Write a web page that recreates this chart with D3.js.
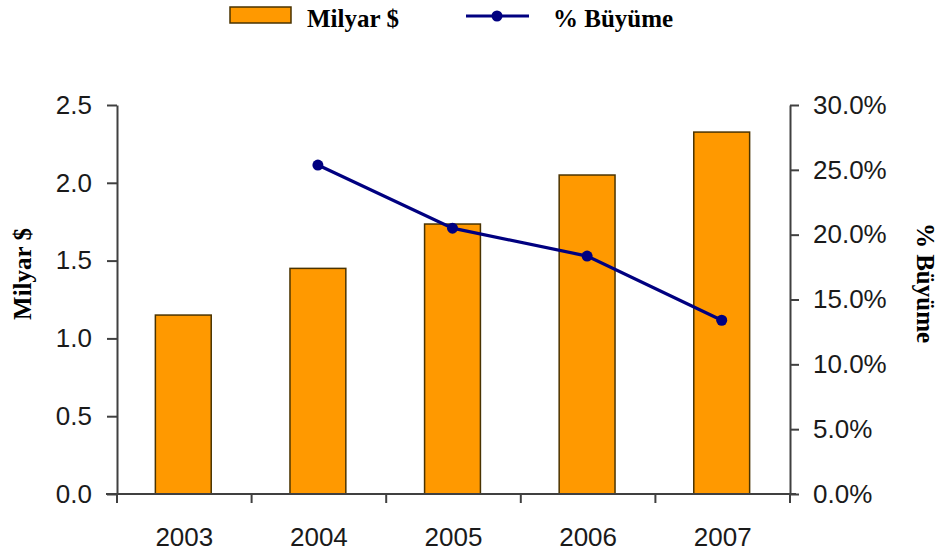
<!DOCTYPE html>
<html><head><meta charset="utf-8">
<script src="https://cdn.jsdelivr.net/npm/d3@7"></script>
<style>
html,body{margin:0;padding:0;background:#fff;}
svg{display:block;}
</style></head>
<body>
<svg id="chart" width="942" height="558"></svg>
<script>
const years = ["2003","2004","2005","2006","2007"];
const milyar = [1.15, 1.45, 1.735, 2.05, 2.326];
const buyume = [null, 0.2537, 0.205, 0.1835, 0.134];
const leftTicks = [0, 0.5, 1.0, 1.5, 2.0, 2.5];
const rightTicks = [0, 0.05, 0.10, 0.15, 0.20, 0.25, 0.30];
const seriesNames = ["Milyar $", "% Büyüme"];

const svg = d3.select("#chart");
const L = 117, R = 790, T = 105, B = 494;
const barColor = "#FF9900", barStroke = "#4a3300", lineColor = "#000080", axisColor = "#404040";
const sans = "'Liberation Sans', Arial, sans-serif";
const serif = "'Liberation Serif', 'Times New Roman', serif";

const x = d3.scaleBand().domain(years).range([L, R]).paddingInner(0.585).paddingOuter(0.2925);
const y = d3.scaleLinear().domain([0, 2.5]).range([B, T]);
const y2 = d3.scaleLinear().domain([0, 0.30]).range([B, T]);

// bars
svg.append("g").selectAll("rect").data(years).join("rect")
  .attr("x", d => x(d) - 1).attr("width", x.bandwidth())
  .attr("y", (d,i) => y(milyar[i])).attr("height", (d,i) => B - y(milyar[i]))
  .attr("fill", barColor).attr("stroke", barStroke).attr("stroke-width", 1.5);

// axes
function styleAxis(g){
  g.select(".domain").attr("stroke", axisColor).attr("stroke-width", 2);
  g.selectAll(".tick line").attr("stroke", axisColor).attr("stroke-width", 2);
  g.selectAll("text").attr("fill", "#1a1a1a").style("font-family", sans).style("font-size", "26px");
}
const gl = svg.append("g").attr("transform", `translate(${L},0)`)
  .call(d3.axisLeft(y).tickValues(leftTicks).tickFormat(d3.format(".1f")).tickSize(10).tickSizeOuter(0).tickPadding(15));
styleAxis(gl);
const gr = svg.append("g").attr("transform", `translate(${R},0)`)
  .call(d3.axisRight(y2).tickValues(rightTicks).tickFormat(d3.format(".1%")).tickSize(9).tickSizeOuter(0).tickPadding(14));
styleAxis(gr);
const gb = svg.append("g").attr("transform", `translate(0,${B})`)
  .call(d3.axisBottom(x).tickSize(0).tickPadding(34));
styleAxis(gb);
gb.select(".domain").attr("d", `M${L-11},0H${R+6}`);
// category boundary ticks
const bounds = d3.range(years.length + 1).map(i => L + i * x.step());
gb.selectAll(".btick").data(bounds).join("line").attr("class","btick")
  .attr("x1", d => d).attr("x2", d => d).attr("y1", 0).attr("y2", 9)
  .attr("stroke", axisColor).attr("stroke-width", 2);

// line
const pts = years.map((d,i) => ({yr:d, v:buyume[i]})).filter(p => p.v != null);
const cx = p => x(p.yr) + x.bandwidth()/2 - 1;
const line = d3.line().x(cx).y(p => y2(p.v));
svg.append("path").datum(pts).attr("d", line).attr("fill","none")
  .attr("stroke", lineColor).attr("stroke-width", 3.2);
svg.append("g").selectAll("circle").data(pts).join("circle")
  .attr("cx", cx).attr("cy", p => y2(p.v)).attr("r", 5.5)
  .attr("fill", lineColor);

// axis titles
svg.append("text").attr("transform", "translate(31,274) rotate(-90)")
  .attr("text-anchor","middle").style("font-family", serif).style("font-size","25px").style("font-weight","bold")
  .text(seriesNames[0]);
svg.append("text").attr("transform", "translate(917,283) rotate(90)")
  .attr("text-anchor","middle").style("font-family", serif).style("font-size","25px").style("font-weight","bold")
  .text(seriesNames[1]);

// legend
const lg = svg.append("g");
lg.append("rect").attr("x",230).attr("y",7).attr("width",61).attr("height",16)
  .attr("fill", barColor).attr("stroke", barStroke).attr("stroke-width",1.5);
lg.append("text").attr("x",307).attr("y",27).style("font-family", serif).style("font-size","25px").style("font-weight","bold").text(seriesNames[0]);
lg.append("line").attr("x1",466).attr("x2",529).attr("y1",16).attr("y2",16).attr("stroke",lineColor).attr("stroke-width",3.2);
lg.append("circle").attr("cx",497).attr("cy",16).attr("r",5.5).attr("fill",lineColor);
lg.append("text").attr("x",553).attr("y",27).style("font-family", serif).style("font-size","25px").style("font-weight","bold").text(seriesNames[1]);
</script>
</body></html>
